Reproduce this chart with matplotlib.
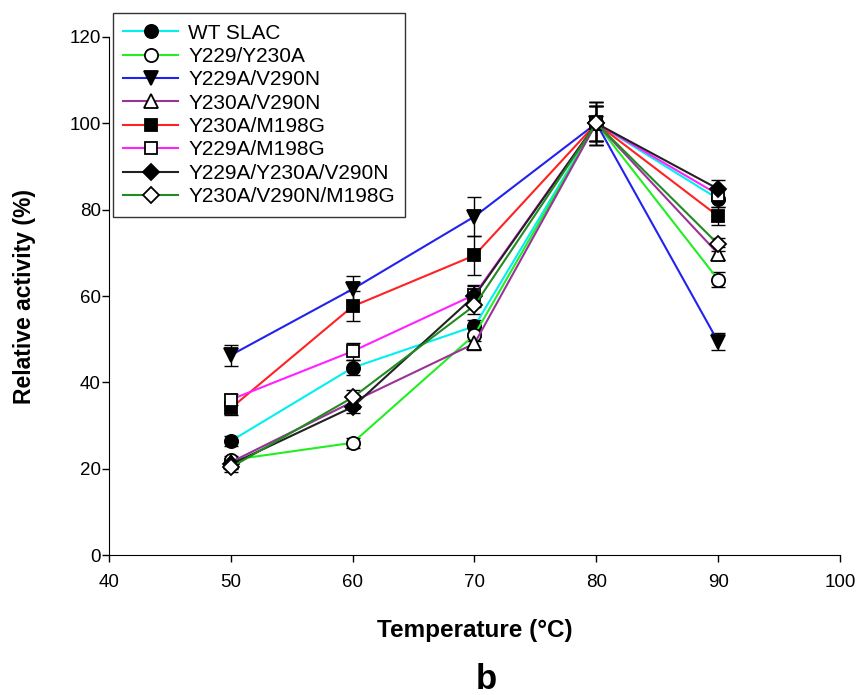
import matplotlib.pyplot as plt
import numpy as np

plt.rcParams['font.family'] = ['Liberation Sans', 'DejaVu Sans']

temps = [50, 60, 70, 80, 90]

names = ['WT SLAC', 'Y229/Y230A', 'Y229A/V290N', 'Y230A/V290N',
         'Y230A/M198G', 'Y229A/M198G', 'Y229A/Y230A/V290N', 'Y230A/V290N/M198G']

wt_slac = [26.4, 43.4, 53.0, 100, 82.5]
y229_y230a = [22.0, 26.0, 51.0, 100, 63.8]
y229a_v290n = [46.3, 61.6, 78.4, 100, 49.4]
y230a_v290n = [21.5, 35.5, 49.0, 100, 69.8]
y230a_m198g = [34.0, 57.6, 69.4, 100, 78.5]
y229a_m198g = [36.0, 47.2, 60.3, 100, 83.5]
triple_a = [21.0, 34.3, 60.0, 100, 84.8]
triple_b = [20.3, 36.5, 57.8, 100, 72.0]

err_wt = [1.2, 1.8, 1.5, 4.0, 2.0]
err_y229_y230a = [1.0, 1.2, 1.5, 4.0, 1.8]
err_y229a_v290n = [2.4, 3.0, 4.6, 5.0, 2.0]
err_y230a_v290n = [1.0, 1.5, 1.5, 4.0, 1.5]
err_y230a_m198g = [1.5, 3.5, 4.5, 5.0, 2.0]
err_y229a_m198g = [1.2, 2.0, 2.0, 4.0, 1.5]
err_triple_a = [1.0, 1.5, 2.5, 5.0, 2.0]
err_triple_b = [1.0, 1.8, 2.0, 4.0, 1.5]

values = [wt_slac, y229_y230a, y229a_v290n, y230a_v290n,
          y230a_m198g, y229a_m198g, triple_a, triple_b]
errors = [err_wt, err_y229_y230a, err_y229a_v290n, err_y230a_v290n,
          err_y230a_m198g, err_y229a_m198g, err_triple_a, err_triple_b]

colors = ['#00f0f0', '#22ee22', '#2222ee', '#993399',
          '#ff2222', '#ff22ff', '#222222', '#228b22']
markers = ['o', 'o', 'v', '^', 's', 's', 'D', 'D']
faces = ['black', 'white', 'black', 'white', 'black', 'white', 'black', 'white']
sizes = [9.5, 9.5, 10, 9.5, 8.5, 8.5, 8.5, 8.5]

fig = plt.figure(figsize=(8.63, 6.95), dpi=100)
ax = fig.add_axes([0.1263, 0.2014, 0.847, 0.7454])

handles = []
for y, e, c, m, f, s, n in zip(values, errors, colors, markers, faces, sizes, names):
    ax.errorbar(temps, y, yerr=e, fmt='none', ecolor='black',
                elinewidth=1.0, capsize=5, capthick=1.0, zorder=2)
    h, = ax.plot(temps, y, color=c, lw=1.5, marker=m, markersize=s,
                 markerfacecolor=f, markeredgecolor='black',
                 markeredgewidth=1.3, label=n, zorder=3)
    handles.append(h)

ax.set_xlim(40, 100)
ax.set_ylim(0, 120)
ax.set_xticks(np.arange(40, 101, 10))
ax.set_yticks(np.arange(0, 121, 20))
ax.spines['top'].set_visible(False)
ax.spines['right'].set_visible(False)
ax.tick_params(direction='out', length=5, width=1, labelsize=13.5)
ax.tick_params(axis='x', pad=9)
ax.tick_params(axis='y', pad=1)

ax.set_ylabel('Relative activity (%)', fontsize=16.5, fontweight='bold', labelpad=24)
ax.set_xlabel('Temperature (°C)', fontsize=17.5, fontweight='bold', labelpad=20)
fig.text(0.564, 0.008, 'b', fontsize=25, fontweight='bold', ha='center')

leg = fig.legend(handles=handles, loc='upper left', bbox_to_anchor=(0.131, 0.981),
                 fontsize=15, frameon=True, fancybox=False, edgecolor='black',
                 labelspacing=0.21, handlelength=2.6, handletextpad=0.5,
                 borderpad=0.5, borderaxespad=0)
leg.get_frame().set_linewidth(1.0)

fig.savefig('out.png', dpi=100)
